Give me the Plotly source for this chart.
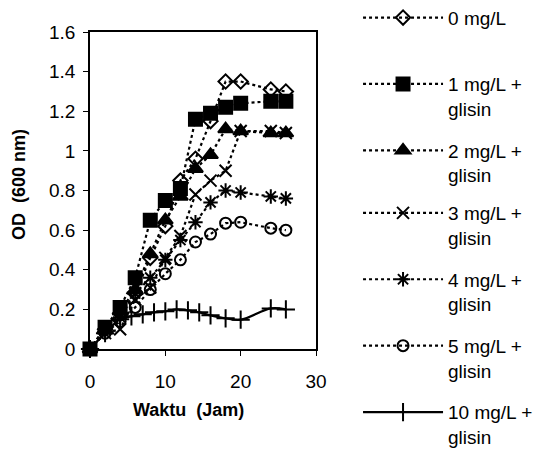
import plotly.graph_objects as go

# Time (jam)
t_std = [0, 2, 4, 6, 8, 10, 12, 14, 16, 18, 20, 24, 26]
t_10 = [0, 2, 4, 5.5, 7, 8.5, 10, 11.5, 13, 14.5, 16, 18, 20, 24, 26]

od_0 = [0, 0.10, 0.18, 0.28, 0.46, 0.62, 0.85, 0.96, 1.15, 1.35, 1.35, 1.31, 1.30]
od_1 = [0, 0.11, 0.21, 0.36, 0.65, 0.75, 0.81, 1.16, 1.19, 1.22, 1.24, 1.25, 1.25]
od_2 = [0, 0.10, 0.19, 0.30, 0.48, 0.65, 0.77, 0.91, 0.98, 1.11, 1.10, 1.09, 1.09]
od_3 = [0, 0.08, 0.10, 0.25, 0.31, 0.46, 0.57, 0.78, 0.85, 0.90, 1.10, 1.10, 1.09]
od_4 = [0, 0.10, 0.16, 0.28, 0.36, 0.45, 0.55, 0.64, 0.74, 0.80, 0.79, 0.77, 0.76]
od_5 = [0, 0.08, 0.14, 0.21, 0.30, 0.38, 0.45, 0.54, 0.58, 0.635, 0.64, 0.61, 0.60]
od_10 = [0, 0.08, 0.15, 0.165, 0.175, 0.185, 0.19, 0.20, 0.195, 0.185, 0.17, 0.155, 0.148, 0.205, 0.20]

labels = ["0 mg/L<br>&nbsp;", "1 mg/L +<br>glisin", "2 mg/L +<br>glisin",
          "3 mg/L +<br>glisin", "4 mg/L +<br>glisin", "5 mg/L +<br>glisin",
          "10 mg/L +<br>glisin"]

x_ticks = [0, 10, 20, 30]
y_ticks = [0, 0.2, 0.4, 0.6, 0.8, 1, 1.2, 1.4, 1.6]
y_ticktext = ["0", "0.2", "0.4", "0.6", "0.8", "1", "1.2", "1.4", "1.6"]

series = [
    (t_std, od_0, "diamond-open", 11, "3px,3px", "legend"),
    (t_std, od_1, "square", 13, "3px,3px", "legend"),
    (t_std, od_2, "triangle-up", 13, "3px,3px", "legend"),
    (t_std, od_3, "x-thin-open", 12, "3px,3px", "legend2"),
    (t_std, od_4, "asterisk-open", 12, "3px,3px", "legend2"),
    (t_std, od_5, "circle-open", 11, "3px,3px", "legend2"),
    (t_10, od_10, "cross-thin-open", 13, "solid", "legend2"),
]

fig = go.Figure()
for i, (tx, ty, sym, sz, dash, lg) in enumerate(series):
    fig.add_trace(go.Scatter(
        x=tx, y=ty, name=labels[i], mode="lines+markers",
        legendgroup=str(i), legend=lg,
        line=dict(color="black", width=2.2, dash=dash,
                  shape="spline" if dash == "solid" else "linear"),
        marker=dict(symbol=sym, size=sz, color="black",
                    line=dict(color="black", width=2)),
        cliponaxis=False,
    ))

leg_common = dict(xanchor="left", yanchor="top", valign="top",
                  tracegroupgap=14, itemwidth=80,
                  font=dict(size=19), bgcolor="rgba(0,0,0,0)")

fig.update_layout(
    width=535, height=448,
    margin=dict(l=82, r=227, t=24, b=107, autoexpand=False),
    paper_bgcolor="white", plot_bgcolor="white",
    font=dict(family="Liberation Sans, Arial, sans-serif", size=18, color="black"),
    legend=dict(x=1.186, y=1.105, **leg_common),
    legend2=dict(x=1.186, y=0.489, **leg_common),
    showlegend=True,
    annotations=[
        dict(text="<b>Waktu  (Jam)</b>", xref="paper", yref="paper",
             x=0.434, y=-0.192, showarrow=False, font=dict(size=18),
             xanchor="center", yanchor="middle"),
        dict(text="<b>OD  (600 nm)</b>", xref="paper", yref="paper",
             x=-0.315, y=0.52, showarrow=False, font=dict(size=18),
             textangle=-90, xanchor="center", yanchor="middle"),
    ],
)
fig.update_xaxes(range=[0, 30], tickvals=x_ticks, showgrid=False,
                 zeroline=False, showline=True, linecolor="black", linewidth=1.5,
                 mirror=True, ticks="outside", ticklen=5, tickcolor="black",
                 tickfont=dict(size=19), ticklabelstandoff=9)
fig.update_yaxes(range=[0, 1.6], tickvals=y_ticks, ticktext=y_ticktext,
                 showgrid=False, zeroline=False, showline=True, linecolor="black",
                 linewidth=1.5, mirror=True, ticks="outside", ticklen=5,
                 tickcolor="black", tickfont=dict(size=19), ticklabelstandoff=4)

fig.write_html("out.html")
